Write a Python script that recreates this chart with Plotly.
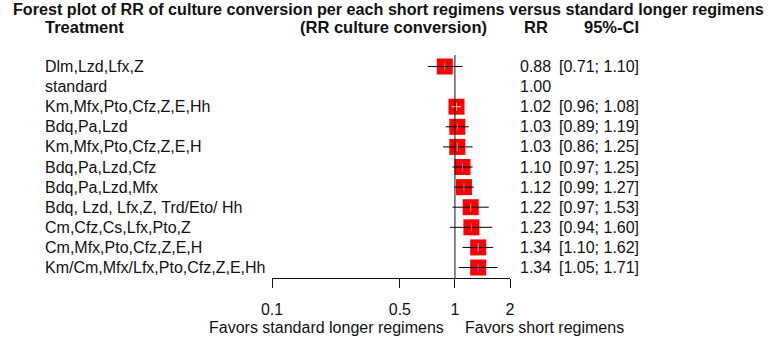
import math
import plotly.graph_objects as go

treatments = [
    "Dlm,Lzd,Lfx,Z",
    "standard",
    "Km,Mfx,Pto,Cfz,Z,E,Hh",
    "Bdq,Pa,Lzd",
    "Km,Mfx,Pto,Cfz,Z,E,H",
    "Bdq,Pa,Lzd,Cfz",
    "Bdq,Pa,Lzd,Mfx",
    "Bdq, Lzd, Lfx,Z, Trd/Eto/ Hh",
    "Cm,Cfz,Cs,Lfx,Pto,Z",
    "Cm,Mfx,Pto,Cfz,Z,E,H",
    "Km/Cm,Mfx/Lfx,Pto,Cfz,Z,E,Hh",
]
rr = [0.88, 1.00, 1.02, 1.03, 1.03, 1.10, 1.12, 1.22, 1.23, 1.34, 1.34]
ci_low = [0.71, None, 0.96, 0.89, 0.86, 0.97, 0.99, 0.97, 0.94, 1.10, 1.05]
ci_high = [1.10, None, 1.08, 1.19, 1.25, 1.25, 1.27, 1.53, 1.60, 1.62, 1.71]
tick_vals = [0.1, 0.5, 1, 2]
tick_labels = ["0.1", "0.5", "1", "2"]

# ---- layout geometry (pixels) ----
W, H = 777, 340
PL, PR = 272, 510          # plot area left/right
PT, PB = 55, 278           # plot area top/bottom
ROW0, ROWSTEP = 66.5, 20.1
SQ = 16
FONT = "Liberation Sans, Arial, sans-serif"
TXT = "#111111"

n = len(treatments)
ytop = -(ROW0 - PT) / ROWSTEP
ybot = ytop + (PB - PT) / ROWSTEP
xr = [math.log10(tick_vals[0]), math.log10(tick_vals[-1])]
px_per_dec = (PR - PL) / (xr[1] - xr[0])


def xp(px):
    return (px - PL) / (PR - PL)


def yp(py):
    return (PB - py) / (PB - PT)


fig = go.Figure()

rows = list(range(n))
est_rows = [i for i in rows if ci_low[i] is not None]

# squares
fig.add_trace(go.Scatter(
    x=[rr[i] for i in est_rows], y=est_rows, mode="markers",
    marker=dict(symbol="square", size=SQ, color="#ff0000", line=dict(width=0)),
    cliponaxis=False, hoverinfo="skip", showlegend=False))

# confidence intervals
for i in est_rows:
    inside = ((math.log10(ci_high[i]) - math.log10(rr[i])) * px_per_dec < SQ / 2 and
              (math.log10(rr[i]) - math.log10(ci_low[i])) * px_per_dec < SQ / 2)
    col = "white" if inside else "black"
    fig.add_trace(go.Scatter(
        x=[ci_low[i], ci_high[i]], y=[i, i], mode="lines",
        line=dict(color=col, width=1), cliponaxis=False,
        hoverinfo="skip", showlegend=False))
    fig.add_trace(go.Scatter(
        x=[rr[i]], y=[i], mode="markers",
        marker=dict(symbol="line-ns-open", size=6, line=dict(color=col, width=1)),
        cliponaxis=False, hoverinfo="skip", showlegend=False))

# reference line at RR = 1
fig.add_shape(type="line", xref="x", yref="paper", x0=1, x1=1, y0=0, y1=1,
              line=dict(color="#111", width=1))

ann = []
# title and headers
ann.append(dict(text="<b>Forest plot of RR of culture conversion per each short regimens versus standard longer regimens</b>",
                x=xp(W / 2), y=yp(9), xanchor="center", yanchor="middle",
                font=dict(size=16.15)))
ann.append(dict(text="<b>Treatment</b>", x=xp(43), y=yp(27), xanchor="left", yanchor="middle",
                font=dict(size=16.5)))
ann.append(dict(text="<b>(RR culture conversion)</b>", x=xp(393), y=yp(27), xanchor="center",
                yanchor="middle", font=dict(size=16.5)))
ann.append(dict(text="<b>RR</b>", x=xp(550), y=yp(27), xanchor="right", yanchor="middle",
                font=dict(size=16.5)))
ann.append(dict(text="<b>95%-CI</b>", x=xp(582), y=yp(27), xanchor="left", yanchor="middle",
                font=dict(size=16.5)))

for i in rows:
    py = ROW0 + ROWSTEP * i
    ann.append(dict(text=treatments[i], x=xp(43), y=yp(py), xanchor="left", yanchor="middle"))
    ann.append(dict(text=f"{rr[i]:.2f}", x=xp(518), y=yp(py), xanchor="left", yanchor="middle"))
    if ci_low[i] is not None:
        ann.append(dict(text=f"[{ci_low[i]:.2f}; {ci_high[i]:.2f}]", x=xp(556.5), y=yp(py),
                        xanchor="left", yanchor="middle"))

# favours labels (annotation x on a log axis is given in log10 units)
ann.append(dict(text="Favors standard longer regimens", x=math.log10(1), xref="x", y=yp(327),
                xanchor="right", yanchor="middle", xshift=-9))
ann.append(dict(text="Favors short regimens", x=math.log10(1), xref="x", y=yp(327),
                xanchor="left", yanchor="middle", xshift=8))

for a in ann:
    a.setdefault("xref", "paper")
    a["yref"] = "paper"
    a["showarrow"] = False
    f = a.setdefault("font", {})
    f.setdefault("size", 16)
    f["family"] = FONT
    f["color"] = TXT

fig.update_layout(
    width=W, height=H,
    margin=dict(l=PL, r=W - PR, t=PT, b=H - PB, pad=0),
    paper_bgcolor="white", plot_bgcolor="white",
    showlegend=False,
    annotations=ann,
    xaxis=dict(type="log", range=xr, tickvals=tick_vals, ticktext=tick_labels,
               ticks="outside", ticklen=9, tickwidth=1, tickcolor="#111",
               showline=True, linecolor="#111", linewidth=1,
               showgrid=False, zeroline=False, fixedrange=True,
               ticklabelstandoff=8,
               tickfont=dict(family=FONT, size=16, color=TXT)),
    yaxis=dict(range=[ybot, ytop], visible=False, showgrid=False, zeroline=False,
               fixedrange=True),
)

fig.write_html("out.html", config={"displayModeBar": False},
               post_script="document.body.style.margin='0';")
